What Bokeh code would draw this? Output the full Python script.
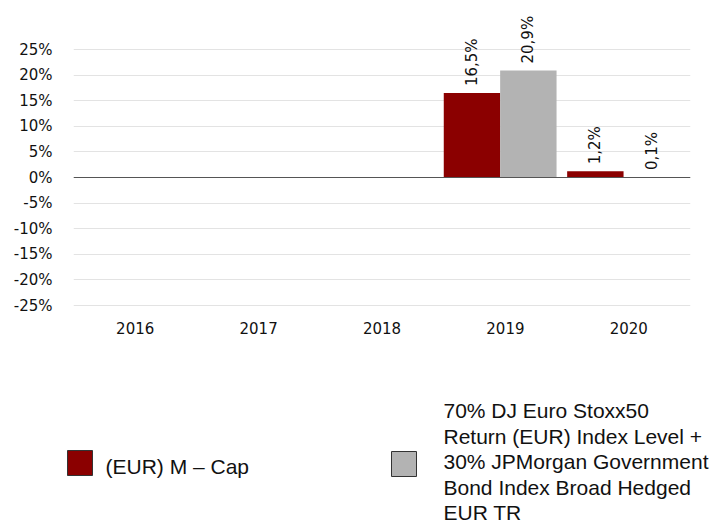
import math
from bokeh.plotting import figure
from bokeh.models import (ColumnDataSource, FactorRange, Range1d, FixedTicker,
                          PrintfTickFormatter, Span)
from bokeh.transform import dodge
from bokeh.layouts import column
from bokeh.core.properties import value
from bokeh.embed import file_html
from bokeh.resources import INLINE

# ---- data ----
years = ["2016", "2017", "2018", "2019", "2020"]
fund_years = ["2019", "2020"]
fund_values = [16.5, 1.2]
bench_years = ["2019", "2020"]
bench_values = [20.9, 0.1]
y_ticks = [-25, -20, -15, -10, -5, 0, 5, 10, 15, 20, 25]
fund_name = "(EUR) M \u2013 Cap"
bench_name_lines = ["70% DJ Euro Stoxx50",
                    "Return (EUR) Index Level +",
                    "30% JPMorgan Government",
                    "Bond Index Broad Hedged",
                    "EUR TR"]

RED = "#8B0000"
GREY = "#B3B3B3"
CHART_FONT = "DejaVu Sans"
LEGEND_FONT = "Liberation Sans"


def fmt(v):
    return ("%.1f" % v).replace(".", ",") + "%"


fund_src = ColumnDataSource(dict(year=fund_years, v=fund_values,
                                 lab=[fmt(v) for v in fund_values]))
bench_src = ColumnDataSource(dict(year=bench_years, v=bench_values,
                                  lab=[fmt(v) for v in bench_values]))

W = 717
PH = 344
p = figure(width=W, height=PH, x_range=FactorRange(factors=years),
           y_range=Range1d(-26.95, 32.62),
           output_backend="svg", toolbar_location=None,
           min_border_left=73, min_border_right=27,
           min_border_top=10, min_border_bottom=29)
p.frame_align = False
p.outline_line_color = None
p.background_fill_color = "white"
p.border_fill_color = "white"

bar_w = 0.457
off_f = -0.271
off_b = 0.186

p.vbar(x=dodge("year", off_f, range=p.x_range), top="v", bottom=0, width=bar_w,
       source=fund_src, fill_color=RED, line_color=None)
p.vbar(x=dodge("year", off_b, range=p.x_range), top="v", bottom=0, width=bar_w,
       source=bench_src, fill_color=GREY, line_color=None)

for src, off in ((fund_src, off_f), (bench_src, off_b)):
    p.text(x=dodge("year", off, range=p.x_range), y="v", text="lab", source=src,
           angle=math.pi / 2, text_align="left", text_baseline="middle",
           y_offset=-7, text_font=value(CHART_FONT), text_font_size="15px",
           text_color="#111111")

p.add_layout(Span(location=0, dimension="width", line_color="#555555",
                  line_width=1.2))

# axes
p.xgrid.grid_line_color = None
p.ygrid.ticker = FixedTicker(ticks=y_ticks)
p.ygrid.grid_line_color = "#e3e3e3"
p.ygrid.grid_line_width = 1

p.yaxis.ticker = FixedTicker(ticks=y_ticks)
p.yaxis.formatter = PrintfTickFormatter(format="%d%%")
for ax in (p.xaxis[0], p.yaxis[0]):
    ax.axis_line_color = None
    ax.major_tick_line_color = None
    ax.minor_tick_line_color = None
    ax.major_tick_out = 0
    ax.major_tick_in = 0
    ax.major_label_text_font = CHART_FONT
    ax.major_label_text_font_size = "15px"
    ax.major_label_text_color = "#111111"
p.yaxis.major_label_standoff = 21
p.xaxis.major_label_standoff = 6

# ---- legend figure (pixel coordinates, y downward) ----
LH = 525 - PH
lg = figure(width=W, height=LH, x_range=Range1d(0, W), y_range=Range1d(LH, 0),
            output_backend="svg", toolbar_location=None,
            min_border_left=0, min_border_right=0, min_border_top=0,
            min_border_bottom=0)
lg.frame_align = False
lg.axis.visible = False
lg.grid.visible = False
lg.outline_line_color = None
lg.border_fill_color = "white"

lg.quad(left=[67], right=[92], top=[106], bottom=[131], fill_color=RED,
        line_color="#333333", line_width=1)
lg.text(x=[105], y=[121.5], text=[fund_name], text_font=value(LEGEND_FONT),
        text_font_size="21px", text_baseline="alphabetic", text_align="left",
        text_color="#111111")

lg.quad(left=[391], right=[416], top=[107], bottom=[132], fill_color=GREY,
        line_color="#333333", line_width=1)
n = len(bench_name_lines)
first, step = 66, 25.5
lg.text(x=[443] * n, y=[first + i * step for i in range(n)], text=bench_name_lines,
        text_font=value(LEGEND_FONT), text_font_size="21px",
        text_baseline="alphabetic", text_align="left", text_color="#111111")

layout = column(p, lg, spacing=0)
open("out.html", "w").write(file_html(layout, INLINE))
